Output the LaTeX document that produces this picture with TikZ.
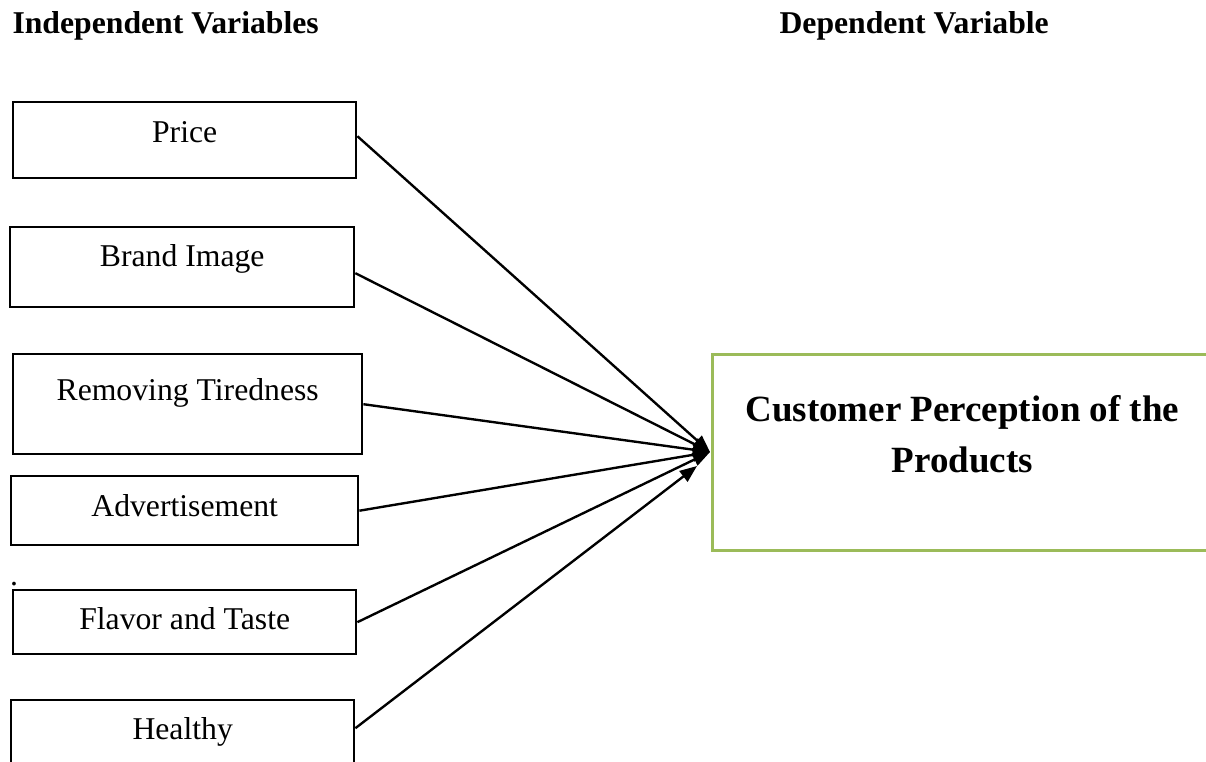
\documentclass[tikz,border=0pt]{standalone}
\usepackage{fontspec}
\setmainfont{Liberation Serif}
\usepackage{tikz}
\usetikzlibrary{arrows.meta}
\usetikzlibrary{calc}

\definecolor{boxgreen}{RGB}{155,187,89}
\def\px{0.3785pt}

\begin{document}
\begin{tikzpicture}[x=\px, y=-\px,
        varbox/.style={draw, line width=0.9pt, anchor=north west, inner sep=0pt,
            font=\fontsize{12}{14}\selectfont},
        link/.style={line width=0.9pt, -{Triangle[length=6.5pt, width=5pt]}}
    ]
    \useasboundingbox (0,0) rectangle (1206,761);
    \clip (0,0) rectangle (1206,761);

    % headings
    \node[anchor=base west, inner sep=0pt, font=\bfseries\fontsize{12}{14}\selectfont] (indep) at (12,33) {Independent Variables};
    \node[anchor=base west, inner sep=0pt, font=\bfseries\fontsize{12}{14}\selectfont] (dep) at (779,33) {Dependent Variable};

    % left column
    \node[varbox, minimum width=343*\px, text height=40*\px, text depth=36*\px] (price) at (12,101) {Price};
    \node[varbox, minimum width=344*\px, text height=39*\px, text depth=41*\px] (brand) at (9,226) {Brand Image};
    \node[varbox, minimum width=349*\px, text height=46*\px, text depth=54*\px] (tired) at (12,353) {Removing Tiredness};
    \node[varbox, minimum width=347*\px, text height=40*\px, text depth=29*\px] (advert) at (10,475) {Advertisement};
    \node[anchor=base, inner sep=0pt, font=\fontsize{12}{14}\selectfont] (dot) at (14,585) {.};
    \node[varbox, minimum width=343*\px, text height=39*\px, text depth=25*\px] (flavor) at (12,589) {Flavor and Taste};
    \node[varbox, minimum width=343*\px, text height=39*\px, text depth=41*\px] (healthy) at (10,699) {Healthy};

    % right box
    \node[draw=boxgreen, line width=1pt, anchor=north west, inner sep=0pt,
        minimum width=500*\px, minimum height=196*\px] (percep) at (711,353) {};
    \node[align=center, font=\bfseries\fontsize{14}{19.3}\selectfont] (percepText)
        at ($(percep.center)+(0,-18)$) {Customer Perception of the\\Products};

    \coordinate (hub) at (710,452);
    \coordinate (hubLow) at (697,466);

    \draw[link] ($(price.east)+(0,-4)$) -- (hub);
    \draw[link] ($(brand.east)+(0,6)$) -- (hub);
    \draw[link] (tired.east) -- (hub);
    \draw[link] (advert.east) -- (hub);
    \draw[link] (flavor.east) -- (hub);
    \draw[link] ($(healthy.east)+(0,-12)$) -- (hubLow);
\end{tikzpicture}
\end{document}
